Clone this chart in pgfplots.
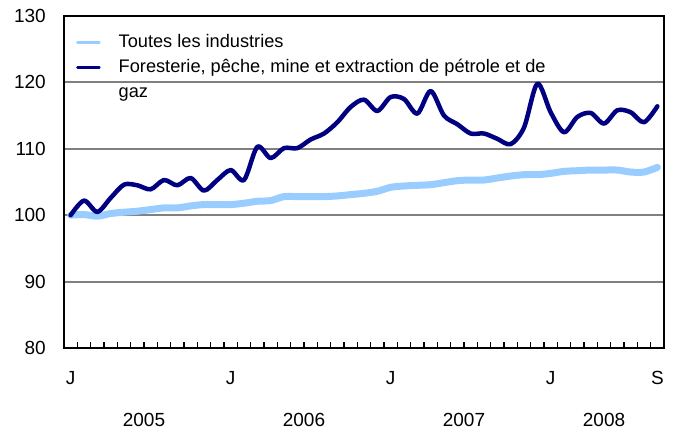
\documentclass[border=0pt]{standalone}
\usepackage{fontspec}
\setmainfont{Liberation Sans}
\usepackage{pgfplots}
\pgfplotsset{compat=1.18}
\definecolor{lightser}{HTML}{99CCFF}
\definecolor{darkser}{HTML}{000080}
\pgfplotstableread{
i v
0 100.0
1 100.1
2 99.85
3 100.25
4 100.45
5 100.6
6 100.85
7 101.1
8 101.1
9 101.4
10 101.6
11 101.6
12 101.6
13 101.8
14 102.1
15 102.2
16 102.8
17 102.8
18 102.8
19 102.8
20 102.9
21 103.1
22 103.3
23 103.6
24 104.2
25 104.4
26 104.5
27 104.6
28 104.9
29 105.2
30 105.3
31 105.3
32 105.6
33 105.9
34 106.1
35 106.1
36 106.3
37 106.6
38 106.7
39 106.8
40 106.8
41 106.8
42 106.5
43 106.5
44 107.2
}\alltable
\pgfplotstableread{
i v
0 100.0
1 102.2
2 100.5
3 102.6
4 104.6
5 104.5
6 103.9
7 105.3
8 104.5
9 105.6
10 103.7
11 105.3
12 106.8
13 105.3
14 110.3
15 108.6
16 110.1
17 110.1
18 111.4
19 112.3
20 114.0
21 116.3
22 117.4
23 115.7
24 117.8
25 117.5
26 115.3
27 118.7
28 115.0
29 113.7
30 112.3
31 112.3
32 111.5
33 110.7
34 113.2
35 119.8
36 115.5
37 112.5
38 114.8
39 115.4
40 113.8
41 115.8
42 115.5
43 114.0
44 116.4
}\foresttable
\begin{document}
\fontsize{19bp}{22bp}\selectfont
\begin{tikzpicture}
\useasboundingbox (0,0) rectangle (678bp,435bp);
\begin{axis}[
  at={(64bp,87bp)}, anchor=south west,
  scale only axis, width=600bp, height=332bp,
  xmin=-0.5, xmax=44.5, ymin=80, ymax=130,
  axis line style={line width=2bp, black},
  font=\fontsize{19bp}{22bp}\selectfont,
  /pgf/number format/assume math mode=true,
  xtick={-0.5,0.5,...,44.5}, xticklabels={},
  xtick pos=bottom, tick align=inside,
  major tick length=6bp,
  x tick style={line width=1.5bp, black},
  extra x ticks={0,12,24,36,44},
  extra x tick labels={J,J,J,J,S},
  extra x tick style={major tick length=0pt, x tick style={draw=none}},
  xticklabel style={inner sep=0pt, anchor=north, yshift=-23bp},
  ytick={80,90,...,130},
  y tick style={draw=none},
  yticklabel style={inner sep=0pt, anchor=east, xshift=-18bp},
  ymajorgrids,
  grid style={line width=2bp, color=black!50},
  legend style={draw=none, fill=none, at={(axis description cs:0.02,0.954)}, anchor=north west,
    font=\fontsize{18.2bp}{22bp}\selectfont, row sep=3bp, column sep=16bp, inner sep=0pt,
    nodes={inner sep=2bp, text height=14bp, text depth=4bp}},
  legend cell align=left,
  legend image code/.code={\draw[#1, line width=2.5bp] (0bp,0bp) -- (22bp,0bp);},
  clip=false,
]
\addplot[color=lightser, line width=7bp, smooth, line join=round, line cap=round] table[x=i, y=v] {\alltable};
\addlegendentry{Toutes les industries}
\addplot[color=darkser, line width=4.5bp, smooth, line join=round, line cap=round] table[x=i, y=v] {\foresttable};
\addlegendentry{Foresterie, pêche, mine et extraction de pétrole et de}
\addlegendimage{empty legend}
\addlegendentry{gaz}
\node at (axis cs:5.5,80) [yshift=-72bp] {2005};
\node at (axis cs:17.5,80) [yshift=-72bp] {2006};
\node at (axis cs:29.5,80) [yshift=-72bp] {2007};
\node at (axis cs:40,80) [yshift=-72bp] {2008};
\end{axis}
\end{tikzpicture}
\end{document}
